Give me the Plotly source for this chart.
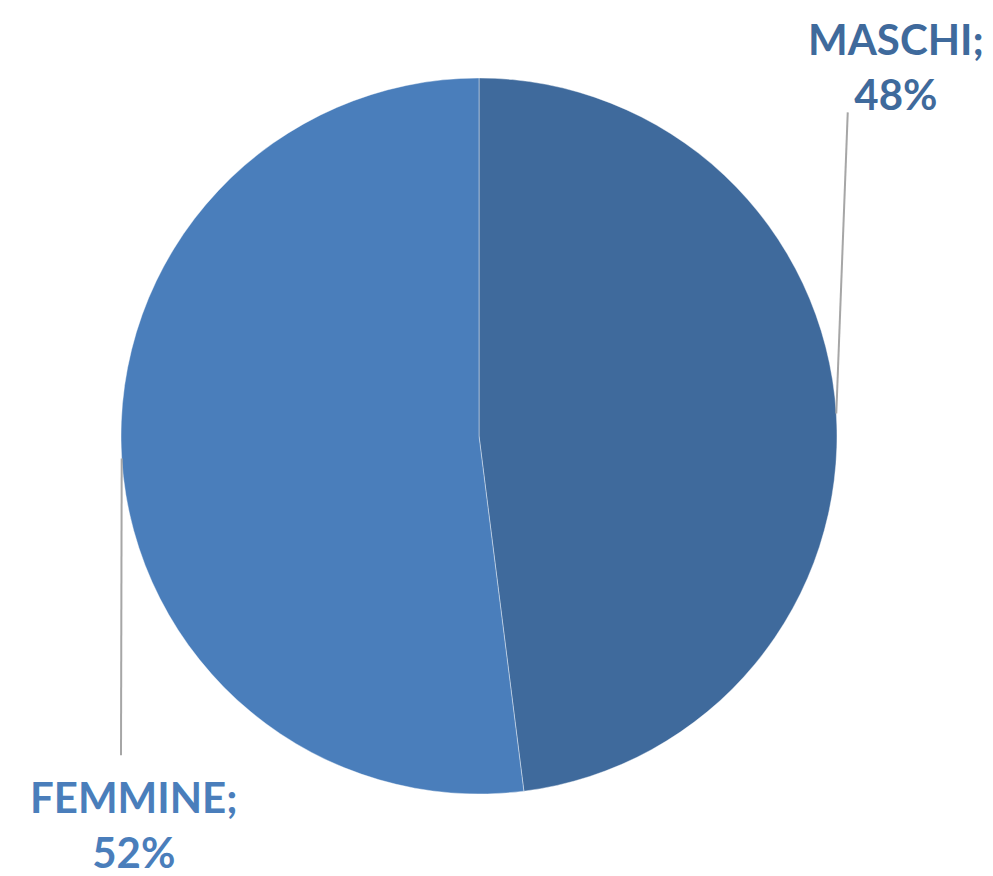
import math
import plotly.graph_objects as go

labels = ["MASCHI", "FEMMINE"]
values = [48, 52]
colors = ["#3F6A9C", "#4A7EBB"]

fig = go.Figure(go.Pie(
    labels=labels, values=values, sort=False, direction="clockwise", rotation=0,
    marker=dict(colors=colors, line=dict(color="rgba(255,255,255,0.4)", width=1)),
    textinfo="none", hoverinfo="label+percent", showlegend=False,
    domain=dict(x=[0, 1], y=[0, 1]),
))

total = sum(values)
cum = 0
mids = []
for v in values:
    mids.append((cum + v / 2) / total * 2 * math.pi)
    cum += v

# leader lines from slice mid points
ends = [(1.015, 0.952), (0.0, 0.054)]
label_pos = [(1.082, 1.016), (0.018, -0.042)]
shapes = []
annotations = []
for lab, v, ang, end, lp, col in zip(labels, values, mids, ends, label_pos, colors):
    sx = 0.5 + 0.5 * math.sin(ang)
    sy = 0.5 + 0.5 * math.cos(ang)
    shapes.append(dict(type="line", xref="paper", yref="paper", x0=sx, y0=sy,
                       x1=end[0], y1=end[1], line=dict(color="#A6A6A6", width=2)))
    pct = round(v / total * 100)
    annotations.append(dict(xref="paper", yref="paper", x=lp[0], y=lp[1],
                            text=f"<b>{lab};<br>{pct}%</b>", showarrow=False,
                            xanchor="center", yanchor="middle",
                            font=dict(family="Lato", size=42, color=col)))

fig.update_layout(
    width=993, height=876,
    margin=dict(l=113, r=164, t=70, b=90),
    paper_bgcolor="white", plot_bgcolor="white",
    shapes=shapes, annotations=annotations,
)
fig.write_html("out.html")
